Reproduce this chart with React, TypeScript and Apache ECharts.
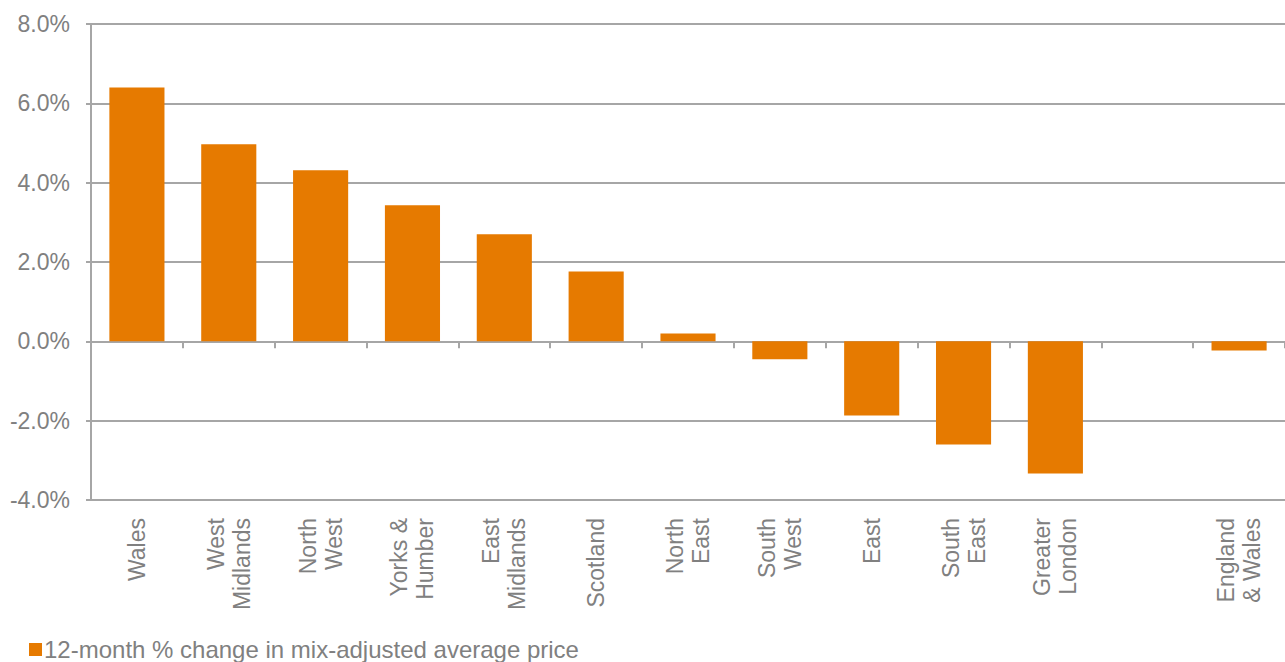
import React, { useEffect, useRef } from "react";
import * as echarts from "echarts";

const categories = [
  "Wales",
  "West\nMidlands",
  "North\nWest",
  "Yorks &\nHumber",
  "East\nMidlands",
  "Scotland",
  "North\nEast",
  "South\nWest",
  "East",
  "South\nEast",
  "Greater\nLondon",
  "",
  "England\n& Wales",
];

const values: (number | null)[] = [6.4, 4.97, 4.31, 3.43, 2.7, 1.76, 0.2, -0.45, -1.87, -2.6, -3.33, null, -0.23];

const seriesName = "12-month % change in mix-adjusted average price";

export default function App() {
  const ref = useRef<HTMLDivElement>(null);
  useEffect(() => {
    if (!ref.current) return;
    const chart = echarts.init(ref.current, undefined, { renderer: "svg" });
    const gray = "#a6a6a6";
    const textGray = "#808080";
    const font = "Liberation Sans";
    const fs = 23;
    chart.setOption({
      animation: false,
      textStyle: { fontFamily: font },
      grid: { left: 91, right: 0, top: 24, bottom: 162, containLabel: false },
      legend: {
        show: true,
        left: 29,
        top: 637,
        itemWidth: 13,
        itemHeight: 13,
        icon: "rect",
        itemGap: 4,
        padding: 0,
        textStyle: { fontSize: 24, lineHeight: 24, color: textGray, fontFamily: font, padding: [1, 0, 0, -3] },
        data: [seriesName],
      },
      xAxis: [
        {
          type: "category",
          data: categories,
          position: "bottom",
          axisLine: { show: true, onZero: true, lineStyle: { color: gray, width: 2 } },
          axisTick: { show: true, length: 7, lineStyle: { color: gray, width: 2 } },
          axisLabel: { show: false },
          splitLine: { show: false },
        },
        {
          type: "category",
          data: categories,
          position: "bottom",
          axisLine: { show: false, onZero: false },
          axisTick: { show: false },
          axisLabel: {
            show: true,
            rotate: 90,
            margin: 18,
            interval: 0,
            color: textGray,
            fontSize: fs,
            fontFamily: font,
            lineHeight: 26,
          },
        },
      ],
      yAxis: {
        type: "value",
        min: -4,
        max: 8,
        interval: 2,
        axisLine: { show: true, lineStyle: { color: gray, width: 2 } },
        axisTick: { show: true, length: 5, lineStyle: { color: gray, width: 2 } },
        splitLine: { show: true, lineStyle: { color: gray, width: 2 } },
        axisLabel: {
          color: textGray,
          fontSize: fs,
          fontFamily: font,
          margin: 21,
          formatter: (v: number) => v.toFixed(1) + "%",
        },
      },
      series: [
        {
          name: seriesName,
          type: "bar",
          data: values,
          xAxisIndex: 0,
          barCategoryGap: "40%",
          itemStyle: { color: "#e67a00" },
        },
      ],
    });
    return () => chart.dispose();
  }, []);
  return (
    <div
      ref={ref}
      style={{ position: "fixed", left: 0, top: 0, width: 1285, height: 662, background: "#fff" }}
    />
  );
}
